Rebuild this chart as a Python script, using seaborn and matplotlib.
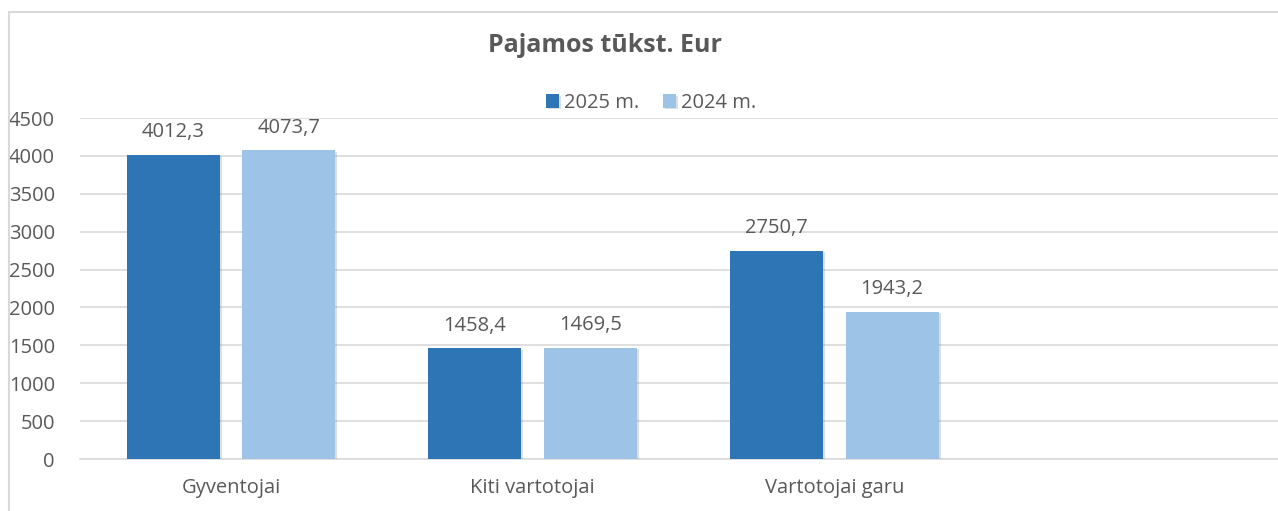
import numpy as np
import pandas as pd
import matplotlib
matplotlib.use("Agg")
import matplotlib.pyplot as plt
import matplotlib.patheffects as pe
from matplotlib.patches import Rectangle
import seaborn as sns

# chart data
categories = ["Gyventojai", "Kiti vartotojai", "Vartotojai garu"]
series_names = ["2025 m.", "2024 m."]
values_2025 = [4012.3, 1458.4, 2750.7]
values_2024 = [4073.7, 1469.5, 1943.2]
y_ticks = [0, 500, 1000, 1500, 2000, 2500, 3000, 3500, 4000, 4500]

df = pd.DataFrame({
    "category": categories * 2,
    "series": [series_names[0]] * 3 + [series_names[1]] * 3,
    "value": values_2025 + values_2024,
})

sns.set_theme(style="white")
plt.rcParams['font.family'] = ['Open Sans', 'DejaVu Sans']
TXT = "#595959"
GRID = "#D9D9D9"
palette = {"2025 m.": "#2E75B6", "2024 m.": "#9DC3E6"}

fig = plt.figure(figsize=(12.78, 5.11), dpi=100)
ax = fig.add_axes([80 / 1278, 1 - 459 / 511, 1198 / 1278, 341 / 511])

sns.barplot(data=df, x="category", y="value", hue="series", palette=palette,
            width=0.765, gap=0.195, saturation=1, ax=ax, legend=True, zorder=3)

for bar in ax.patches:
    bar.set_linewidth(0)
    bar.set_path_effects([pe.SimplePatchShadow(offset=(1.5, -1), alpha=0.25, shadow_rgbFace="#7f7f7f"),
                          pe.Normal()])

for cont in ax.containers:
    labels = [f"{v:.1f}".replace(".", ",") for v in cont.datavalues]
    ax.bar_label(cont, labels=labels, padding=9, fontsize=14.5, color=TXT)

ax.set_xlim(-0.5, 3.47)
ax.set_ylim(0, 4500)
ax.set_yticks(y_ticks)
ax.set_yticklabels([str(t) for t in y_ticks])
ax.set_xlabel("")
ax.set_ylabel("")
ax.yaxis.grid(True, color=GRID, linewidth=1.2, zorder=0)
ax.set_axisbelow(True)
for s in ["top", "right", "left"]:
    ax.spines[s].set_visible(False)
ax.spines["bottom"].set_color(GRID)
ax.spines["bottom"].set_linewidth(1.2)
ax.tick_params(axis="y", length=0, labelsize=14.5, labelcolor=TXT, pad=18)
ax.tick_params(axis="x", length=0, labelsize=14.5, labelcolor=TXT, pad=14)

handles, labels = ax.get_legend_handles_labels()
ax.legend_.remove()
fig.legend(handles, labels, loc="center", bbox_to_anchor=(651 / 1278, 1 - 103 / 511),
           ncol=2, frameon=False, fontsize=14.5, labelcolor=TXT,
           handlelength=0.65, handleheight=0.65, handletextpad=0.25, columnspacing=1.2)

fig.text(605 / 1278, 1 - 45 / 511, "Pajamos tūkst. Eur", ha="center", va="center",
         fontsize=18, fontweight="bold", color=TXT)

fig.patches.append(Rectangle((9 / 1278, -0.01), 1.02, 1 - 12 / 511 + 0.01,
                             transform=fig.transFigure, fill=False,
                             edgecolor="#D9D9D9", linewidth=1.5))

fig.savefig("out.png", dpi=100, facecolor="white")
